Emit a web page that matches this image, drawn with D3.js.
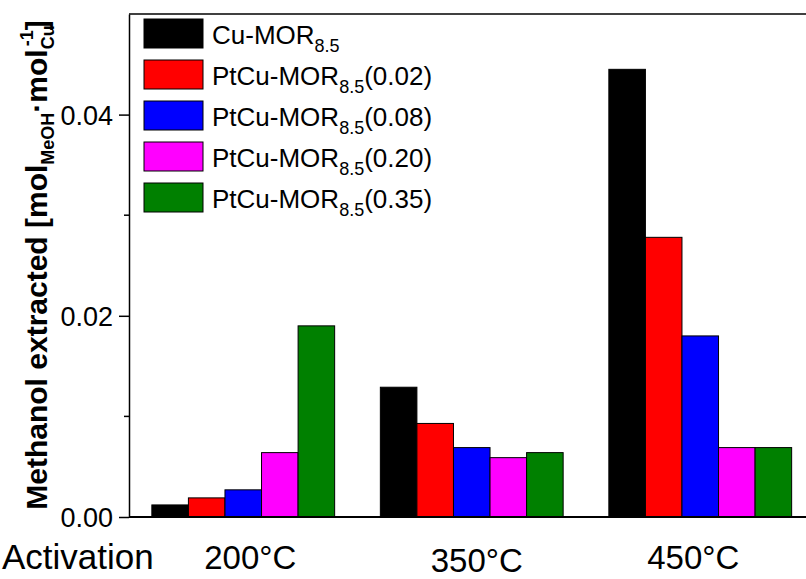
<!DOCTYPE html>
<html>
<head>
<meta charset="utf-8">
<script src="https://cdnjs.cloudflare.com/ajax/libs/d3/7.8.5/d3.min.js"></script>
<style>
body { margin: 0; background: #fff; }
text { font-family: Arial, "Liberation Sans", sans-serif; fill: #000; }
</style>
</head>
<body>
<div id="chart"></div>
<script>
var width = 806, height = 579;
var margin = {top: 14, left: 129, bottom: 517};
var plotRight = 814.5; // frame runs past the right edge of the picture

// data
var temps = ["200°C", "350°C", "450°C"];
var seriesNames = ["Cu", "Pt002", "Pt008", "Pt020", "Pt035"];
var legendBase = ["Cu-MOR", "PtCu-MOR", "PtCu-MOR", "PtCu-MOR", "PtCu-MOR"];
var legendSuffix = ["", "(0.02)", "(0.08)", "(0.20)", "(0.35)"];
var colors = ["#000000", "#ff0000", "#0000ff", "#ff00ff", "#008000"];

var cuMor   = [0.0012, 0.0129, 0.0445];
var pt002   = [0.0019, 0.0093, 0.0278];
var pt008   = [0.0027, 0.0069, 0.0180];
var pt020   = [0.0064, 0.0059, 0.0069];
var pt035   = [0.0190, 0.0064, 0.0069];
var seriesValues = [cuMor, pt002, pt008, pt020, pt035];

var majorTicks = [0, 0.02, 0.04];
var minorTicks = [0.01, 0.03];

var svg = d3.select("#chart")
  .append("svg")
  .attr("width", width)
  .attr("height", height);

var x = d3.scaleBand()
  .domain(temps)
  .range([margin.left, plotRight])
  .paddingInner(0.2)
  .paddingOuter(0.1);

var xInner = d3.scaleBand()
  .domain(seriesNames)
  .range([0, x.bandwidth()]);

var y = d3.scaleLinear()
  .domain([0, 0.05])
  .range([margin.bottom, margin.top]);

// bars
var rows = [];
temps.forEach(function(t, i){
  seriesNames.forEach(function(s, j){
    rows.push({temp: t, series: s, value: seriesValues[j][i], color: colors[j]});
  });
});

svg.append("g").selectAll("rect")
  .data(rows)
  .enter().append("rect")
  .attr("x", function(d){ return x(d.temp) + xInner(d.series); })
  .attr("y", function(d){ return y(d.value); })
  .attr("width", xInner.bandwidth())
  .attr("height", function(d){ return y(0) - y(d.value); })
  .attr("fill", function(d){ return d.color; })
  .attr("stroke", "#000")
  .attr("stroke-width", 1);

// frame top
svg.append("line")
  .attr("x1", margin.left).attr("x2", width)
  .attr("y1", margin.top).attr("y2", margin.top)
  .attr("stroke", "#000").attr("stroke-width", 1.5);

// bottom axis line
svg.append("line")
  .attr("x1", margin.left).attr("x2", width)
  .attr("y1", y(0)).attr("y2", y(0))
  .attr("stroke", "#000").attr("stroke-width", 2);

// y axis
var yAxis = d3.axisLeft(y)
  .tickValues(majorTicks)
  .tickFormat(d3.format(".2f"))
  .tickSize(10)
  .tickSizeOuter(0)
  .tickPadding(6);

var gy = svg.append("g")
  .attr("transform", "translate(" + margin.left + ",0)")
  .call(yAxis);
gy.select(".domain").attr("stroke-width", 1.5);
gy.selectAll(".tick line").attr("stroke-width", 1.5);
gy.selectAll(".tick text")
  .style("font-size", "27px")
  .style("font-family", "Arial, 'Liberation Sans', sans-serif")
  .attr("dy", "0.36em");

gy.selectAll(".minor")
  .data(minorTicks)
  .enter().append("line")
  .attr("class", "minor")
  .attr("x1", -5).attr("x2", 0)
  .attr("y1", function(d){ return y(d); })
  .attr("y2", function(d){ return y(d); })
  .attr("stroke", "#000").attr("stroke-width", 1.5);

// y title
var yTitle = svg.append("text")
  .attr("transform", "translate(47," + 265 + ") rotate(-90)")
  .attr("text-anchor", "middle")
  .style("font-size", "30px")
  .style("font-weight", "bold");
yTitle.append("tspan").text("Methanol extracted [mol");
yTitle.append("tspan").text("MeOH").style("font-size", "18px").attr("dy", 7);
yTitle.append("tspan").text("·mol").attr("dy", -7);
yTitle.append("tspan").text("Cu").style("font-size", "18px").attr("dy", 7);
yTitle.append("tspan").text("-1").style("font-size", "18px").attr("dx", -21).attr("dy", -21);
yTitle.append("tspan").text("]").attr("dy", 14);

// category labels
var labelShift = [{dx: 7, dy: 0}, {dx: 5, dy: 3}, {dx: -7, dy: 0}];
svg.append("g").selectAll("text")
  .data(temps)
  .enter().append("text")
  .attr("x", function(d, i){ return x(d) + x.bandwidth() / 2 + labelShift[i].dx; })
  .attr("y", function(d, i){ return 569 + labelShift[i].dy; })
  .attr("text-anchor", "middle")
  .style("font-size", "33px")
  .text(function(d){ return d; });

svg.append("text")
  .attr("x", 2)
  .attr("y", 569)
  .style("font-size", "35px")
  .text("Activation");

// legend
var legend = svg.append("g").attr("transform", "translate(144,19)");
var item = legend.selectAll("g")
  .data(seriesNames)
  .enter().append("g")
  .attr("transform", function(d, i){ return "translate(0," + (i * 41) + ")"; });

item.append("rect")
  .attr("width", 59)
  .attr("height", 29)
  .attr("fill", function(d, i){ return colors[i]; })
  .attr("stroke", "#000")
  .attr("stroke-width", 1);

var lt = item.append("text")
  .attr("x", 68)
  .attr("y", 25)
  .style("font-size", "26px");
lt.append("tspan").text(function(d, i){ return legendBase[i]; });
lt.append("tspan").text("8.5").style("font-size", "18px").attr("dy", 8);
lt.append("tspan").text(function(d, i){ return legendSuffix[i]; }).attr("dy", -8);
</script>
</body>
</html>
